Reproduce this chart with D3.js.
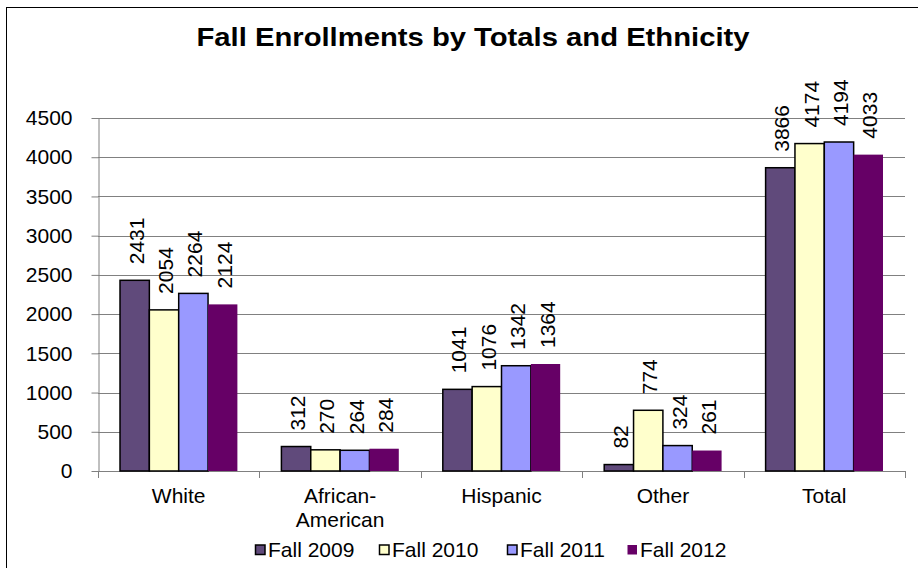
<!DOCTYPE html>
<html><head><meta charset="utf-8">
<script src="https://cdn.jsdelivr.net/npm/d3@7"></script>
<style>body{margin:0;background:#fff}svg{display:block}text{font-family:Arial,"Liberation Sans",sans-serif}</style>
</head><body><svg id="c" width="918" height="568"></svg>
<script>
const categories = ["White", "African-American", "Hispanic", "Other", "Total"];
const seriesNames = ["Fall 2009", "Fall 2010", "Fall 2011", "Fall 2012"];
const fall2009 = [2431, 312, 1041, 82, 3866];
const fall2010 = [2054, 270, 1076, 774, 4174];
const fall2011 = [2264, 264, 1342, 324, 4194];
const fall2012 = [2124, 284, 1364, 261, 4033];
const yTicks = [0, 500, 1000, 1500, 2000, 2500, 3000, 3500, 4000, 4500];
const colors = ["#604A7B", "#FFFFCC", "#9999FF", "#660066"];
const strokes = ["#000", "#000", "#000", "none"];
const series = [fall2009, fall2010, fall2011, fall2012];

const svg = d3.select("#c");
const L = 98, R = 905, T = 118, B = 471;
const FS = 21;

svg.append("rect").attr("x", 6.5).attr("y", 7.5).attr("width", 930).attr("height", 580)
  .attr("fill", "#fff").attr("stroke", "#000").attr("stroke-width", 1);

svg.append("text").attr("x", 473).attr("y", 46).attr("text-anchor", "middle")
  .attr("font-size", 25).attr("font-weight", "bold")
  .attr("textLength", 553).attr("lengthAdjust", "spacingAndGlyphs")
  .text("Fall Enrollments by Totals and Ethnicity");

const y = d3.scaleLinear().domain([0, 4500]).range([B, T]);
const x0 = d3.scaleBand().domain(categories).range([L, R]).paddingInner(1.5/5.5).paddingOuter(0.75/5.5);
const x1 = d3.scaleBand().domain(seriesNames).range([0, x0.bandwidth()]);

// gridlines
svg.append("g").selectAll("line").data(yTicks.slice(1)).join("line")
  .attr("x1", L).attr("x2", R).attr("y1", d => Math.round(y(d)) + 0.5).attr("y2", d => Math.round(y(d)) + 0.5)
  .attr("stroke", "#808080").attr("stroke-width", 1);

// y axis
const ya = svg.append("g").attr("transform", `translate(${L + 0.5},0)`)
  .call(d3.axisLeft(y).tickValues(yTicks).tickFormat(d3.format("d")).tickSize(7).tickPadding(19).tickSizeOuter(0));
ya.select(".domain").attr("stroke", "#808080");
ya.selectAll(".tick line").attr("stroke", "#808080");
ya.selectAll(".tick text").attr("font-size", FS).attr("fill", "#000").attr("font-family", "Arial, 'Liberation Sans', sans-serif");

// x axis line and category ticks
svg.append("line").attr("x1", L).attr("x2", R).attr("y1", B + 0.5).attr("y2", B + 0.5).attr("stroke", "#808080");
const step = (R - L) / categories.length;
svg.append("g").selectAll("line").data(d3.range(categories.length + 1)).join("line")
  .attr("x1", i => Math.round(L + i * step) + 0.5).attr("x2", i => Math.round(L + i * step) + 0.5)
  .attr("y1", B).attr("y2", B + 7).attr("stroke", "#808080");

// bars
const groups = svg.append("g").selectAll("g").data(categories).join("g")
  .attr("transform", c => `translate(${x0(c)},0)`);
series.forEach((vals, si) => {
  groups.append("rect")
    .attr("x", (c, ci) => x1(seriesNames[si]))
    .attr("y", (c, ci) => y(vals[ci]))
    .attr("width", x1.bandwidth())
    .attr("height", (c, ci) => B - y(vals[ci]))
    .attr("fill", colors[si]).attr("stroke", strokes[si]).attr("stroke-width", 1.5);
  groups.append("text")
    .attr("transform", (c, ci) => `translate(${x1(seriesNames[si]) + x1.bandwidth()/2 + 9},${y(vals[ci]) - 16}) rotate(-90)`)
    .attr("font-size", FS).text((c, ci) => vals[ci]);
});

// category labels
svg.append("g").selectAll("text").data(categories).join("text")
  .attr("text-anchor", "middle").attr("font-size", FS)
  .attr("x", c => x0(c) + x0.bandwidth()/2).attr("y", 503)
  .each(function(c) {
    const parts = c === "African-American" ? ["African-", "American"] : [c];
    parts.forEach((p, i) => d3.select(this).append("tspan")
      .attr("x", x0(c) + x0.bandwidth()/2).attr("dy", i ? 24 : 0).text(p));
  });

// legend
const legX = [255, 379, 507, 627];
const lg = svg.append("g").selectAll("g").data(seriesNames).join("g")
  .attr("transform", (d, i) => `translate(${legX[i]},550)`);
lg.append("rect").attr("x", 0.5).attr("y", -5).attr("width", 9.5).attr("height", 9.5)
  .attr("fill", (d, i) => colors[i]).attr("stroke", (d, i) => strokes[i]).attr("stroke-width", 1.5);
lg.append("text").attr("x", 13).attr("y", 6.5).attr("font-size", FS).text(d => d);
</script></body></html>
